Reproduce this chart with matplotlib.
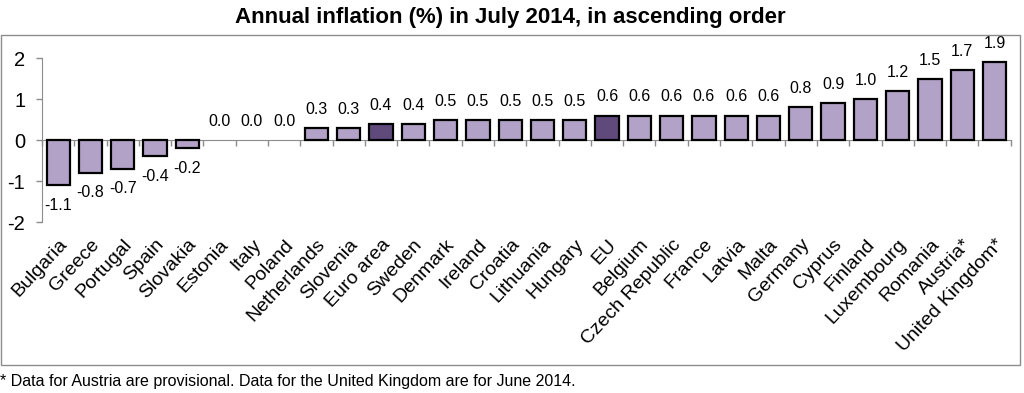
import matplotlib.pyplot as plt
from matplotlib.patches import Rectangle

plt.rcParams['font.family'] = ['Liberation Sans', 'DejaVu Sans']
plt.rcParams['axes.unicode_minus'] = False

# inflation values, July 2014
countries = ["Bulgaria", "Greece", "Portugal", "Spain", "Slovakia", "Estonia", "Italy",
             "Poland", "Netherlands", "Slovenia", "Euro area", "Sweden", "Denmark",
             "Ireland", "Croatia", "Lithuania", "Hungary", "EU", "Belgium",
             "Czech Republic", "France", "Latvia", "Malta", "Germany", "Cyprus",
             "Finland", "Luxembourg", "Romania", "Austria*", "United Kingdom*"]
values = [-1.1, -0.8, -0.7, -0.4, -0.2, 0.0, 0.0, 0.0, 0.3, 0.3, 0.4, 0.4, 0.5,
          0.5, 0.5, 0.5, 0.5, 0.6, 0.6, 0.6, 0.6, 0.6, 0.6, 0.8, 0.9, 1.0, 1.2,
          1.5, 1.7, 1.9]
aggregates = ["Euro area", "EU"]

light = '#b3a2c7'
dark = '#604a7b'
grey = '#8c8c8c'

fig = plt.figure(figsize=(10.24, 3.93), dpi=100)
ax = fig.add_axes([0.041, 0.435, 0.946, 0.417])

x = list(range(len(countries)))
colors = [dark if c in aggregates else light for c in countries]
lws = [0 if v == 0 else 1.6 for v in values]
ax.bar(x, values, width=0.72, color=colors, edgecolor='black', linewidth=lws, zorder=3)

for i, v in enumerate(values):
    if v < 0:
        ax.annotate(f"{v:.1f}", xy=(i, v), xytext=(0, -9), textcoords='offset points',
                    ha='center', va='top', fontsize=11.5)
    else:
        ax.annotate(f"{v:.1f}", xy=(i, v), xytext=(0, 8), textcoords='offset points',
                    ha='center', va='bottom', fontsize=11.5)

# category labels below the plot area
for i, c in enumerate(countries):
    ax.annotate(c, xy=(i, -2), xytext=(0, -10), textcoords='offset points',
                rotation=47, rotation_mode='anchor', ha='right', va='top',
                fontsize=14, annotation_clip=False)

ax.set_xlim(-0.5, len(countries) - 0.5)
ax.set_ylim(-2, 2)
ax.set_yticks([-2, -1, 0, 1, 2])
ax.tick_params(axis='y', colors=grey, labelcolor='black', labelsize=14.5,
               length=4, width=1, pad=8)

ax.spines['bottom'].set_position(('data', 0))
ax.spines['bottom'].set_color(grey)
ax.spines['left'].set_color(grey)
ax.spines['top'].set_visible(False)
ax.spines['right'].set_visible(False)
ax.set_xticks(x)
ax.set_xticklabels([])
ax.set_xticks([i - 0.5 for i in x] + [len(countries) - 0.5], minor=True)
ax.tick_params(axis='x', which='major', length=0)
ax.tick_params(axis='x', which='minor', colors=grey, length=4, width=1)

fig.text(0.498, 0.955, "Annual inflation (%) in July 2014, in ascending order",
         ha='center', va='center', fontsize=16, fontweight='bold')
fig.text(0.0, 0.03, "* Data for Austria are provisional. Data for the United Kingdom are for June 2014.",
         ha='left', va='center', fontsize=11.5)

fig.patches.append(Rectangle((0.001, 0.072), 0.995, 0.84, transform=fig.transFigure,
                             fill=False, edgecolor=grey, linewidth=1))

plt.savefig('out.png', dpi=100)
